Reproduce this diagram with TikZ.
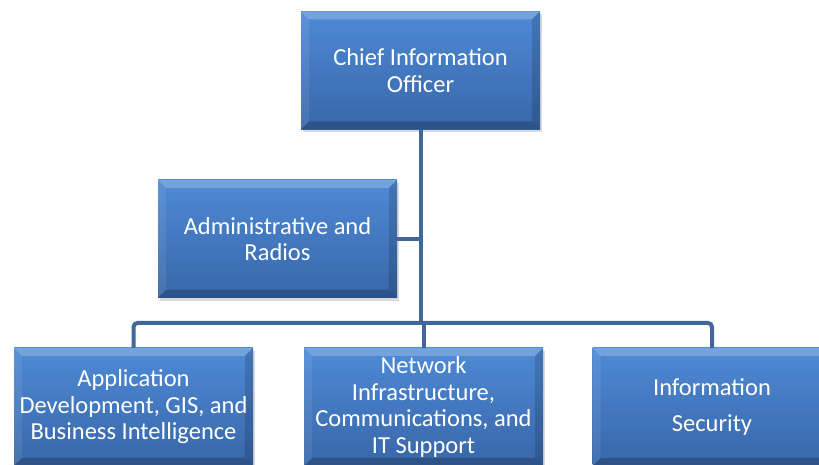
\documentclass[tikz,border=0pt]{standalone}
\usepackage{fontspec}
\setmainfont{Carlito}
\usetikzlibrary{shadows}
\definecolor{boxtop}{RGB}{78,138,214}
\definecolor{boxbot}{RGB}{56,102,168}
\definecolor{linkblue}{RGB}{65,104,155}
\tikzstyle{link}  = [line width=4pt, draw=linkblue, rounded corners=4pt]
\tikzstyle{unit}  = [rectangle, minimum width=239, minimum height=118, inner sep=0pt,
                     top color=boxtop, bottom color=boxbot, text=white, align=center,
                     font=\fontsize{24.5}{26.5}\selectfont,
                     drop shadow={opacity=0.3, shadow xshift=2pt, shadow yshift=-3pt}, bevelled]
\tikzset{bevelled/.style={path picture={
  \path (path picture bounding box.north west) coordinate (bnw)
        (path picture bounding box.north east) coordinate (bne)
        (path picture bounding box.south west) coordinate (bsw)
        (path picture bounding box.south east) coordinate (bse);
  % top, left, right, bottom bevels
  \fill[white,opacity=0.22] (bnw) -- (bne) -- ([xshift=-8pt,yshift=-8pt]bne) -- ([xshift=8pt,yshift=-8pt]bnw) -- cycle;
  \fill[white,opacity=0.08] (bnw) -- ([xshift=8pt,yshift=-8pt]bnw) -- ([xshift=8pt,yshift=8pt]bsw) -- (bsw) -- cycle;
  \fill[black,opacity=0.14] (bne) -- ([xshift=-8pt,yshift=-8pt]bne) -- ([xshift=-8pt,yshift=8pt]bse) -- (bse) -- cycle;
  \fill[black,opacity=0.2] (bsw) -- ([xshift=8pt,yshift=8pt]bsw) -- ([xshift=-8pt,yshift=8pt]bse) -- (bse) -- cycle;
}}}

\begin{document}
\begin{tikzpicture}[x=1pt, y=1pt]
  \useasboundingbox (0,0) rectangle (819,465);

  % Boxes
  \node[unit] (cio) at (420.5,394.5) {Chief Information\\Officer};
  \node[unit] (adm) at (277.5,226)   {Administrative and\\Radios};
  \node[unit] (app) at (133.5,58)    {Application\\Development, GIS, and\\Business Intelligence};
  \node[unit] (net) at (423.5,58)    {Network\\Infrastructure,\\Communications, and\\IT Support};
  \node[unit] (sec) at (712,58)      {Information\\[10pt]Security};

  % Connectors
  \coordinate (bus) at (0,142);
  \draw[link] (cio.south) -- (cio.south |- bus);
  \draw[link] (adm.east) -- (adm.east -| cio.south);
  \draw[link] (app.north) |- (bus -| sec.north) -- (sec.north);
  \draw[link] (net.north) -- (net.north |- bus);
\end{tikzpicture}
\end{document}
